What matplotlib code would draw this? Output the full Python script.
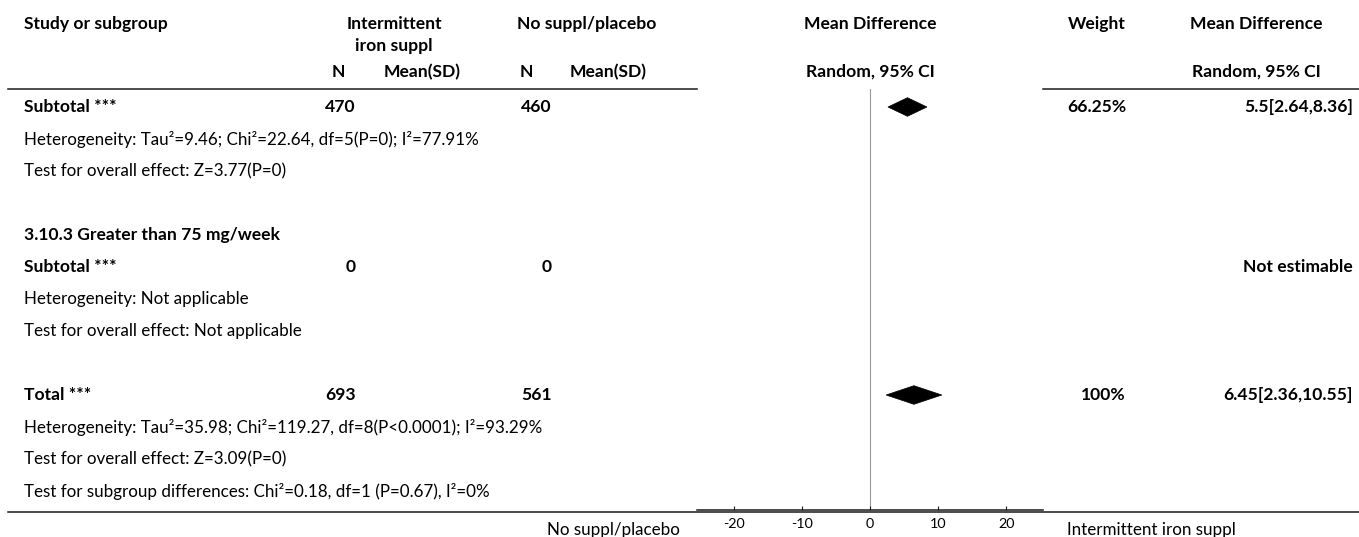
import matplotlib
matplotlib.use("Agg")
import matplotlib.pyplot as plt
from matplotlib.patches import Polygon

# ---------------- data ----------------
row_labels = [
    "Subtotal ***",
    "Heterogeneity: Tau\u00b2=9.46; Chi\u00b2=22.64, df=5(P=0); I\u00b2=77.91%",
    "Test for overall effect: Z=3.77(P=0)",
    "",
    "3.10.3 Greater than 75 mg/week",
    "Subtotal ***",
    "Heterogeneity: Not applicable",
    "Test for overall effect: Not applicable",
    "",
    "Total ***",
    "Heterogeneity: Tau\u00b2=35.98; Chi\u00b2=119.27, df=8(P<0.0001); I\u00b2=93.29%",
    "Test for overall effect: Z=3.09(P=0)",
    "Test for subgroup differences: Chi\u00b2=0.18, df=1 (P=0.67), I\u00b2=0%",
]
row_bold = [True, False, False, False, True, True, False, False, False,
            True, False, False, False]

summary_rows = [0, 5, 9]
summary_n_int = [470, 0, 693]
summary_n_ctl = [460, 0, 561]
summary_md = [5.5, None, 6.45]
summary_lo = [2.64, None, 2.36]
summary_hi = [8.36, None, 10.55]
summary_weight = ["66.25%", "", "100%"]
summary_ci_text = ["5.5[2.64,8.36]", "Not estimable", "6.45[2.36,10.55]"]

x_ticks = [-20, -10, 0, 10, 20]
x_limits = (-25.4, 25.4)
left_label = "No suppl/placebo"
right_label = "Intermittent iron suppl"

# ---------------- layout ----------------
W, H = 1359, 537
DPI = 100
plt.rcParams['font.family'] = ['Lato', 'DejaVu Sans']

fig = plt.figure(figsize=(W / DPI, H / DPI), dpi=DPI)
base = fig.add_axes([0, 0, 1, 1])
base.set_xlim(0, W)
base.set_ylim(H, 0)
base.axis('off')

# fit font size so the long heterogeneity line has the reference width
probe = base.text(24, 100, row_labels[1], fontsize=11.5)
fig.canvas.draw()
wpx = probe.get_window_extent(renderer=fig.canvas.get_renderer()).width
probe.remove()
FS = 11.5 * 457.0 / wpx
FSB = FS * 1.03

ROW0, DY = 107, 32.0
LEFT = 24
X_NI, X_NC = 356, 552
X_W, X_CI = 1126, 1353
PLOT_L, PLOT_R = 697, 1043
TOP_RULE, AXIS_Y, BOT_RULE = 88.5, 510, 512

def txt(x, y, s, ha='left', bold=False, size=None):
    base.text(x, y, s, ha=ha, va='center',
              fontsize=size or (FSB if bold else FS),
              fontweight='bold' if bold else 'normal', color='black')

# header
HY1, HY2, HY3 = 24, 46, 72
txt(LEFT, HY1, "Study or subgroup", bold=True)
txt(394, HY1, "Intermittent", ha='center', bold=True)
txt(394, HY2, "iron suppl", ha='center', bold=True)
txt(587, HY1, "No suppl/placebo", ha='center', bold=True)
txt(870, HY1, "Mean Difference", ha='center', bold=True)
txt(X_W, HY1, "Weight", ha='right', bold=True)
txt(1256, HY1, "Mean Difference", ha='center', bold=True)
txt(338, HY3, "N", ha='center', bold=True)
txt(461, HY3, "Mean(SD)", ha='right', bold=True)
txt(526, HY3, "N", ha='center', bold=True)
txt(647, HY3, "Mean(SD)", ha='right', bold=True)
txt(870, HY3, "Random, 95% CI", ha='center', bold=True)
txt(1256, HY3, "Random, 95% CI", ha='center', bold=True)

# rules
rule_c = '#1a1a1a'
base.plot([8, PLOT_L], [TOP_RULE, TOP_RULE], color=rule_c, lw=1.1)
base.plot([PLOT_R, W], [TOP_RULE, TOP_RULE], color=rule_c, lw=1.1)
base.plot([8, W], [BOT_RULE, BOT_RULE], color=rule_c, lw=1.1)

# rows
for i, (lab, b) in enumerate(zip(row_labels, row_bold)):
    if lab:
        txt(LEFT, ROW0 + i * DY, lab, bold=b)

for k, r in enumerate(summary_rows):
    y = ROW0 + r * DY
    txt(X_NI, y, str(summary_n_int[k]), ha='right', bold=True)
    txt(X_NC, y, str(summary_n_ctl[k]), ha='right', bold=True)
    if summary_weight[k]:
        txt(X_W, y, summary_weight[k], ha='right', bold=True)
    txt(X_CI, y, summary_ci_text[k], ha='right', bold=True)

# forest panel
ax = fig.add_axes([PLOT_L / W, 1 - AXIS_Y / H, (PLOT_R - PLOT_L) / W,
                   (AXIS_Y - TOP_RULE) / H])
ax.set_xlim(*x_limits)
ax.set_ylim(AXIS_Y, TOP_RULE)
ax.patch.set_alpha(0)
for s in ['top', 'left', 'right']:
    ax.spines[s].set_visible(False)
ax.spines['bottom'].set_color('#1a1a1a')
ax.spines['bottom'].set_linewidth(1.1)
ax.set_yticks([])
ax.set_xticks(x_ticks)
ax.set_xticklabels([str(t) for t in x_ticks])
ax.tick_params(axis='x', direction='in', length=3, width=0.8,
               labelsize=FS * 0.85, pad=6, colors='#1a1a1a', labelcolor='black')
ax.plot([0, 0], [TOP_RULE, AXIS_Y], color='#9a9a9a', lw=0.8, zorder=1)

HALF = 9.3
for k, r in enumerate(summary_rows):
    if summary_md[k] is None:
        continue
    y = ROW0 + r * DY
    poly = Polygon([(summary_lo[k], y), (summary_md[k], y - HALF),
                    (summary_hi[k], y), (summary_md[k], y + HALF)],
                   closed=True, facecolor='black', edgecolor='black', lw=0.5,
                   zorder=3)
    ax.add_patch(poly)

# side labels
txt(680, 530, left_label, ha='right')
txt(1067, 530, right_label, ha='left')

fig.savefig("out.png", dpi=DPI)
